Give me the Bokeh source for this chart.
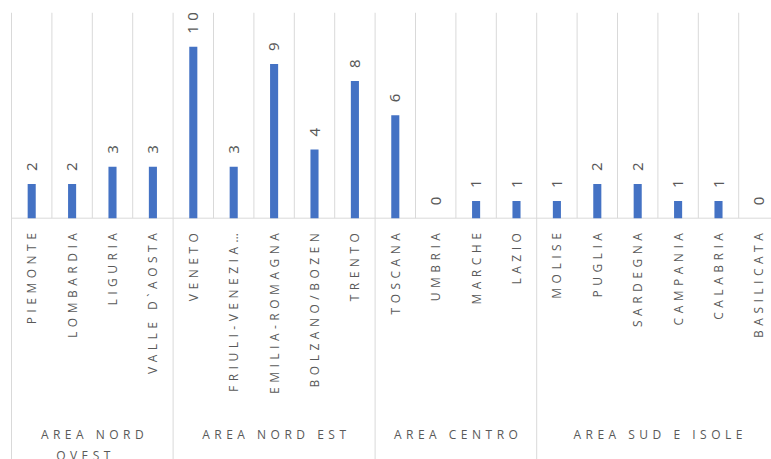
import numpy as np
from bokeh.plotting import figure
from bokeh.models import Range1d, ColumnDataSource
from bokeh.embed import file_html
from bokeh.resources import INLINE
from bokeh.core.properties import value

# ---- data ----
regions = ["PIEMONTE", "LOMBARDIA", "LIGURIA", "VALLE D`AOSTA",
           "VENETO", "FRIULI-VENEZIA…", "EMILIA-ROMAGNA", "BOLZANO/BOZEN", "TRENTO",
           "TOSCANA", "UMBRIA", "MARCHE", "LAZIO",
           "MOLISE", "PUGLIA", "SARDEGNA", "CAMPANIA", "CALABRIA", "BASILICATA"]
counts = [2, 2, 3, 3,
          10, 3, 9, 4, 8,
          6, 0, 1, 1,
          1, 2, 2, 1, 1, 0]
groups = ["AREA NORD\nOVEST", "AREA NORD EST", "AREA CENTRO", "AREA SUD E ISOLE"]
group_sizes = [4, 5, 4, 6]
y_max = 12

# ---- geometry / style ----
W, H = 771, 459
cat_px = 40.4          # pixels per category
unit_px = 17.14        # pixels per unit of value
left_pad = 11          # frame left to first separator (px)
top_border = 12
frame_h = H - top_border
x_start = -left_pad / cat_px
x_end = x_start + W / cat_px
y_start = y_max - frame_h / unit_px

GRID = "#d9d9d9"
TXT = "#595959"
BAR = "#4472C4"
SP = 4.5  # letter spacing (px)

n = len(regions)
centers = [i + 0.5 for i in range(n)]
bounds_group = list(np.cumsum([0] + group_sizes))
bounds_inner = [b for b in range(1, n) if b not in bounds_group]
group_centers = [(bounds_group[k] + bounds_group[k + 1]) / 2 for k in range(len(groups))]

p = figure(width=W, height=H, x_range=Range1d(x_start, x_end), y_range=Range1d(y_start, y_max),
           output_backend="svg", toolbar_location=None,
           min_border_left=0, min_border_right=0, min_border_top=top_border, min_border_bottom=0)
p.axis.visible = False
p.xgrid.visible = False
p.ygrid.visible = False
p.outline_line_color = None
p.background_fill_color = "white"

# inner vertical gridlines (plot area only)
p.segment(x0=bounds_inner, y0=[0] * len(bounds_inner), x1=bounds_inner, y1=[y_max] * len(bounds_inner),
          line_color=GRID, line_width=1)
# group separators (through label area)
p.segment(x0=bounds_group, y0=[y_start] * len(bounds_group), x1=bounds_group, y1=[y_max] * len(bounds_group),
          line_color=GRID, line_width=1)
# baseline
p.segment(x0=[0], y0=[0], x1=[bounds_group[-1]], y1=[0], line_color=GRID, line_width=1)

# bars
p.vbar(x=centers, top=counts, width=0.2, fill_color=BAR, line_color=None)

# value labels
p.text(x=centers, y=counts, text=[str(c) for c in counts], angle=np.pi / 2,
       text_align="left", text_baseline="middle", y_offset=-13,
       text_font=value("Noto Sans"), text_font_size="15px", text_color=TXT)

# category labels (rotated)
cat_src = ColumnDataSource(dict(x=centers, y=[0] * n, t=regions,
                                yo=[15 + (len(r) - 1) * SP for r in regions]))
p.text(x="x", y="y", text="t", source=cat_src, angle=np.pi / 2,
       text_align="right", text_baseline="middle", y_offset="yo",
       text_font=value("Open Sans"), text_font_size="12px", text_color=TXT)

# group labels
grp_src = ColumnDataSource(dict(x=group_centers, y=[0] * len(groups), t=groups,
                                xo=[-(max(len(s) for s in g.split("\n")) - 1) * SP / 2 for g in groups]))
p.text(x="x", y="y", text="t", source=grp_src, text_align="center", text_baseline="top",
       x_offset="xo", y_offset=208, text_line_height=1.2,
       text_font=value("Open Sans"), text_font_size="12px", text_color=TXT)

# spaced caps, as in the reference (inherited by the plot's svg texts)
p.styles = {"letter-spacing": f"{SP}px"}

open("out.html", "w").write(file_html(p, INLINE))
